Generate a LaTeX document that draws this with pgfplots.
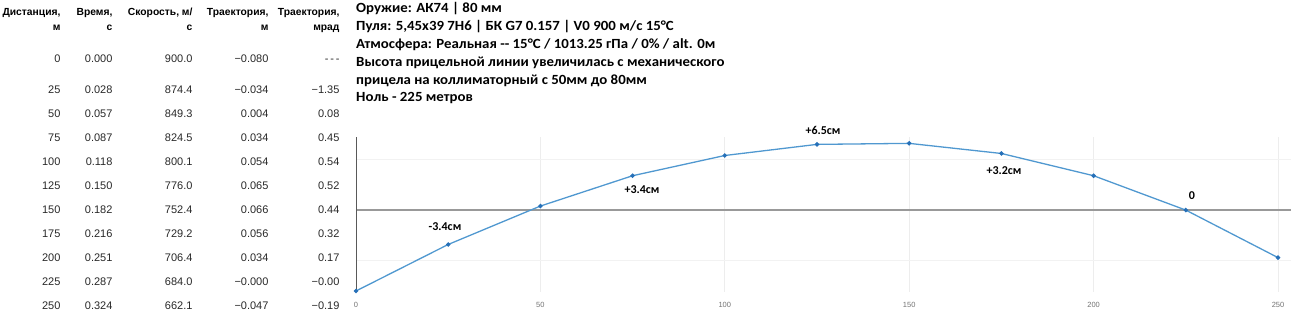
\documentclass[border=0pt]{standalone}
\usepackage{pgfplots}
\pgfplotsset{compat=1.18}
\usepackage{fontspec}
\setmainfont{Carlito}
\newfontfamily\tabfont{Liberation Sans}
\definecolor{lineblue}{RGB}{80,152,208}
\definecolor{markblue}{RGB}{38,112,184}
\definecolor{numtext}{RGB}{40,40,40}
\newcommand{\hd}[3]{\node[anchor=base east,font=\tabfont\bfseries\fontsize{10.3}{11}\selectfont] at (#1,312) {#2};\node[anchor=base east,font=\tabfont\bfseries\fontsize{10.3}{11}\selectfont] at (#1,297) {#3};}
\newcommand{\cell}[2]{\node[anchor=base east,text=numtext,font=\tabfont\fontsize{11}{12}\selectfont] at #1 {#2};}
\newcommand{\row}[6]{%
\cell{(64,#1)}{#2}\cell{(116,#1)}{#3}\cell{(196,#1)}{#4}\cell{(272,#1)}{#5}\cell{(343,#1)}{#6}}
\begin{document}
\begin{tikzpicture}[x=1pt,y=1pt]
\path[use as bounding box] (0,0) rectangle (1291,328);
\begin{axis}[
  at={(356pt,36pt)}, anchor=south west,
  width=922pt, height=155pt, scale only axis,
  xmin=0, xmax=250, ymin=-0.081, ymax=0.0723,
  axis line style={draw=none},
  xtick={0,50,100,150,200,250},
  ytick=\empty,
  major tick length=0pt,
  xticklabel style={font=\tabfont\fontsize{7.5}{8}\selectfont, text=black!55, yshift=-7pt},
  /pgf/number format/assume math mode=true,
  clip=false,
]
\draw[black!7, line width=0.8pt] (axis cs:50,-0.081) -- (axis cs:50,0.0723);
\draw[black!7, line width=0.8pt] (axis cs:100,-0.081) -- (axis cs:100,0.0723);
\draw[black!7, line width=0.8pt] (axis cs:150,-0.081) -- (axis cs:150,0.0723);
\draw[black!7, line width=0.8pt] (axis cs:200,-0.081) -- (axis cs:200,0.0723);
\draw[black!7, line width=0.8pt] (axis cs:250,-0.081) -- (axis cs:250,0.0723);
\draw[black!5, line width=0.8pt] (axis cs:0,0.05) -- (axis cs:253.5,0.05);
\draw[black!5, line width=0.8pt] (axis cs:0,-0.05) -- (axis cs:253.5,-0.05);
\draw[black!40, line width=1.6pt] (axis cs:0,0) -- (axis cs:253.5,0);
\draw[black!65, line width=0.9pt] (axis cs:0,-0.081) -- (axis cs:0,0.0723);
\addplot[color=lineblue, line width=1.3pt, mark=*, mark size=1.5pt,
  mark options={fill=markblue, draw=markblue}] coordinates {
  (0,-0.080) (25,-0.034) (50,0.004) (75,0.034) (100,0.054) (125,0.065)
  (150,0.066) (175,0.056) (200,0.034) (225,-0.000) (250,-0.047)};
\end{axis}
% header
\hd{64}{Дистанция,}{м}
\hd{116}{Время,}{с}
\hd{196}{Скорость, м/}{с}
\hd{272}{Траектория,}{м}
\hd{343}{Траектория,}{мрад}
\row{265}{0}{0.000}{900.0}{−0.080}{-\,-\,-}
\row{234}{25}{0.028}{874.4}{−0.034}{−1.35}
\row{210}{50}{0.057}{849.3}{0.004}{0.08}
\row{186}{75}{0.087}{824.5}{0.034}{0.45}
\row{162}{100}{0.118}{800.1}{0.054}{0.54}
\row{138}{125}{0.150}{776.0}{0.065}{0.52}
\row{114}{150}{0.182}{752.4}{0.066}{0.44}
\row{90}{175}{0.216}{729.2}{0.056}{0.32}
\row{66}{200}{0.251}{706.4}{0.034}{0.17}
\row{42}{225}{0.287}{684.0}{−0.000}{−0.00}
\row{18}{250}{0.324}{662.1}{−0.047}{−0.19}
% info block
\begin{scope}[every node/.style={anchor=base west, inner sep=0pt, xscale=1.06, transform shape, font=\bfseries\fontsize{14}{15}\selectfont}]
\node at (356,315) {Оружие: АК74 | 80 мм};
\node at (356,297) {Пуля: 5,45x39 7Н6 | БК G7 0.157 | V0 900 м/с 15°C};
\node at (356,279) {Атмосфера: Реальная -{}- 15°C / 1013.25 гПа / 0\% / alt. 0м};
\node at (356,261) {Высота прицельной линии увеличилась с механического};
\node at (356,243) {прицела на коллиматорный с 50мм до 80мм};
\node at (356,226) {Ноль - 225 метров};
\end{scope}
% point labels
\begin{scope}[every node/.style={inner sep=0pt, font=\bfseries\fontsize{12}{13}\selectfont}]
\node at (823,198) {+6.5см};
\node at (445,101) {-3.4см};
\node at (642,138) {+3.4см};
\node at (1004,157) {+3.2см};
\node at (1192,132) {0};
\end{scope}
\end{tikzpicture}
\end{document}
